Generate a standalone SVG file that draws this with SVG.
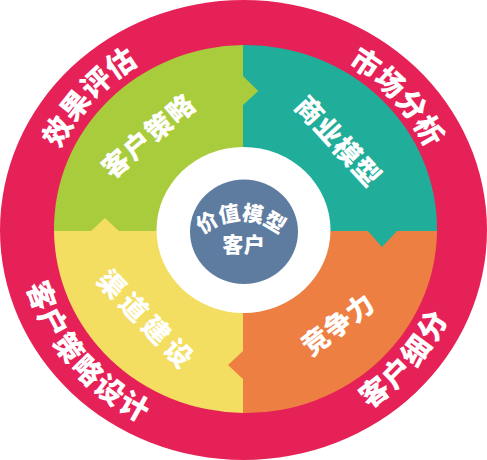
<svg xmlns="http://www.w3.org/2000/svg" width="487" height="460" viewBox="0 0 487 460">
<style>
.lbl{font-family:"Noto Sans CJK SC","Noto Sans",sans-serif;font-weight:900;fill:#fff}
.ringt{font-size:29px}
.inner{font-size:27px}
.core{font-size:21px}
</style>
<defs>
<path id="pTL" d="M52.6,293.1 A202,194 0 0 1 282.1,39.6"/>
<path id="pTR" d="M204.9,39.6 A202,194 0 0 1 434.4,293.1"/>
<path id="pBR" d="M208.5,443.3 A224,216 0 0 0 452.6,152.6"/>
<path id="pBL" d="M34.9,151.2 A224,216 0 0 0 277,443.5"/>
<path id="pCore" d="M183,278.5 A58,58 0 0 1 299,278.5"/>
</defs>
<g id="ring">
<ellipse cx="243.5" cy="230" rx="243.5" ry="230" fill="#E62157"/>
<text class="lbl ringt" letter-spacing="0.5"><textPath href="#pTL" startOffset="50%" text-anchor="middle">效果评估</textPath></text>
<text class="lbl ringt" letter-spacing="0.5"><textPath href="#pTR" startOffset="50%" text-anchor="middle">市场分析</textPath></text>
<text class="lbl ringt" letter-spacing="2"><textPath href="#pBR" startOffset="50%" text-anchor="middle">客户细分</textPath></text>
<text class="lbl ringt" letter-spacing="2"><textPath href="#pBL" startOffset="50%" text-anchor="middle">客户策略设计</textPath></text>
</g>
<g id="q-green">
<path d="M243,231 L54,231 A191.5,184 0 0 1 243,45 Z" fill="#A8CC3B"/>
</g>
<g id="q-teal">
<path d="M243,231 L243,45 A191.5,184 0 0 1 437,231 Z" fill="#20AD9A"/>
</g>
<g id="q-orange">
<path d="M243,231 L437,231 A191.5,184 0 0 1 243,413 Z" fill="#EE7F42"/>
</g>
<g id="q-yellow">
<path d="M243,231 L243,413 A191.5,184 0 0 1 54,231 Z" fill="#F4DE62"/>
</g>
<g id="notches">
<polygon points="242,75 258.3,91 242,106" fill="#A8CC3B"/>
<polygon points="367,230 398,230 382,247" fill="#20AD9A"/>
<polygon points="90,232 105,218 120,232" fill="#F4DE62"/>
<polygon points="244,350 228,365 244,380" fill="#EE7F42"/>
</g>
<g id="t-green"><text class="lbl inner" transform="translate(147.8,135.8) rotate(-40.5)" x="0.6" y="10.3" text-anchor="middle" letter-spacing="1.2">客户策略</text></g>
<g id="t-teal"><text class="lbl inner" transform="translate(338.3,140.8) rotate(47.4)" x="0.5" y="10.3" text-anchor="middle" letter-spacing="1">商业模型</text></g>
<g id="t-orange"><text class="lbl inner" transform="translate(337.5,324.2) rotate(-37)" x="0.3" y="10.3" text-anchor="middle" letter-spacing="0.6">竞争力</text></g>
<g id="t-yellow"><text class="lbl inner" transform="translate(145.5,318.3) rotate(46)" x="2.5" y="10.3" text-anchor="middle" letter-spacing="5">渠道建设</text></g>
<g id="center">
<ellipse cx="243.5" cy="230" rx="87" ry="83" fill="#FFFFFF"/>
<ellipse cx="244" cy="231.7" rx="54" ry="52.3" fill="#5E7CA0"/>
<text class="lbl core"><textPath href="#pCore" startOffset="50%" text-anchor="middle">价值模型</textPath></text>
<text class="lbl core" x="243.8" y="252" text-anchor="middle" letter-spacing="0.5">客户</text>
</g>
</svg>
